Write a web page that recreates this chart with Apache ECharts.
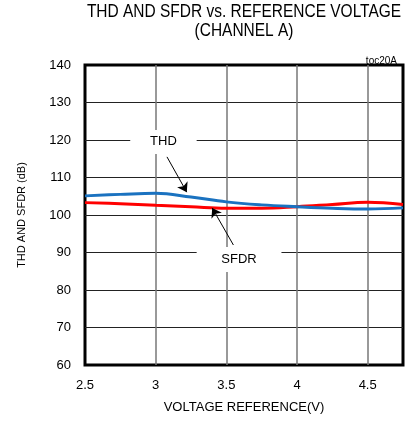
<!DOCTYPE html>
<html>
<head>
<meta charset="utf-8">
<script src="https://cdn.jsdelivr.net/npm/echarts@6/dist/echarts.min.js"></script>
<style>
  html, body { margin: 0; padding: 0; background: #fff; }
  #chart { width: 407px; height: 421px; }
</style>
</head>
<body>
<div id="chart"></div>
<script>
  // 参考电压 (V)
  var voltage = [2.5, 2.75, 3.0, 3.25, 3.5, 3.75, 4.0, 4.25, 4.5, 4.75];
  // THD (dB)
  var thd = [105.1, 105.5, 105.8, 104.8, 103.5, 102.7, 102.2, 101.8, 101.6, 101.9];
  // SFDR (dB)
  var sfdr = [103.3, 103.0, 102.6, 102.2, 101.8, 101.8, 102.2, 102.8, 103.4, 102.8];

  var xTicks = [2.5, 3, 3.5, 4, 4.5];
  var yTicks = [60, 70, 80, 90, 100, 110, 120, 130, 140];

  var font = 'Liberation Sans, Arial, sans-serif';

  function pairs(xs, ys) {
    return xs.map(function (x, i) { return [x, ys[i]]; });
  }

  // 标题字体较窄，用 scaleX 压缩
  function titleLine(text, y) {
    return {
      type: 'text', x: 244, y: y, scaleX: 0.86, silent: true,
      style: { text: text, x: 0, y: 0, font: '18px "Liberation Sans", Arial', fill: '#000', align: 'center', verticalAlign: 'top' }
    };
  }

  var chart = echarts.init(document.getElementById('chart'));

  var option = {
    animation: false,
    backgroundColor: '#fff',
    graphic: [
      titleLine('THD AND SFDR vs. REFERENCE VOLTAGE', 3),
      titleLine('(CHANNEL A)', 22)
    ],
    title: {
      text: 'toc20A', right: 5, top: 51,
      textStyle: { fontFamily: font, fontSize: 10, fontWeight: 'normal', color: '#000' }
    },
    grid: {
      left: 85, right: 4, top: 65, bottom: 56,
      show: true, borderColor: '#000', borderWidth: 3
    },
    xAxis: {
      type: 'value',
      min: 2.5, max: 4.75, interval: 0.5,
      name: 'VOLTAGE REFERENCE(V)',
      nameLocation: 'middle', nameGap: 36,
      nameTextStyle: { fontFamily: font, fontSize: 13, color: '#000' },
      axisLine: { show: false },
      axisTick: { show: false },
      axisLabel: {
        showMaxLabel: false, margin: 14,
        fontFamily: font, fontSize: 13, color: '#000',
        formatter: function (v) { return xTicks.indexOf(v) >= 0 ? String(v) : ''; }
      },
      splitLine: { show: true, showMinLine: false, showMaxLine: false, lineStyle: { color: '#777', width: 1.5 } }
    },
    yAxis: {
      type: 'value',
      min: 60, max: 140, interval: 10,
      name: 'THD AND SFDR (dB)',
      nameLocation: 'middle', nameGap: 58,
      nameTextStyle: { fontFamily: font, fontSize: 11, color: '#000' },
      axisLine: { show: false },
      axisTick: { show: false },
      axisLabel: {
        margin: 14, fontFamily: font, fontSize: 13, color: '#000',
        formatter: function (v) { return yTicks.indexOf(v) >= 0 ? String(v) : ''; }
      },
      splitLine: { show: true, showMinLine: false, showMaxLine: false, lineStyle: { color: '#222', width: 1 } }
    },
    series: [
      {
        name: 'THD',
        type: 'line',
        smooth: 0.4,
        symbol: 'none',
        data: pairs(voltage, thd),
        lineStyle: { color: '#1a72c0', width: 3 },
        z: 3,
        markArea: {
          silent: true,
          itemStyle: { color: '#fff' },
          label: { show: true, position: 'inside', fontFamily: font, fontSize: 13, color: '#000' },
          data: [
            [{ name: 'THD', coord: [2.82, 122.7] }, { coord: [3.29, 116.3] }],
            [{ name: 'SFDR', coord: [3.29, 91.5] }, { coord: [3.89, 84.8] }]
          ]
        },
        markLine: {
          silent: true,
          symbol: ['none', 'arrow'],
          symbolSize: 9,
          label: { show: false },
          lineStyle: { color: '#000', width: 1, type: 'solid' },
          data: [
            [{ coord: [3.08, 115.5] }, { coord: [3.22, 106.1] }],
            [{ coord: [3.55, 92.0] }, { coord: [3.40, 101.9] }]
          ]
        }
      },
      {
        name: 'SFDR',
        type: 'line',
        smooth: 0.4,
        symbol: 'none',
        data: pairs(voltage, sfdr),
        lineStyle: { color: '#f00', width: 3 },
        z: 2
      }
    ]
  };

  chart.setOption(option);
</script>
</body>
</html>
